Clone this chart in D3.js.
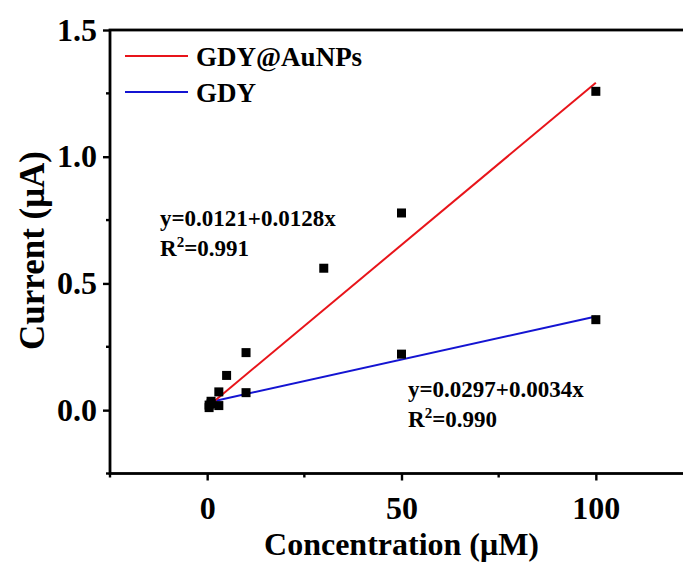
<!DOCTYPE html>
<html>
<head>
<meta charset="utf-8">
<script src="https://cdn.jsdelivr.net/npm/d3@7"></script>
<style>
  html, body { margin: 0; padding: 0; background: #fff; }
  svg { display: block; }
  text { font-family: "Liberation Serif", "Times New Roman", serif; font-weight: bold; fill: #000; }
</style>
</head>
<body>
<svg id="chart" width="683" height="562"></svg>
<script>
// Measured points
const auConc = [0.5, 1, 3, 5, 10, 30, 50, 100];
const auCurrent = [0.02, 0.035, 0.072, 0.137, 0.227, 0.56, 0.778, 1.258];
const gdyConc = [0.5, 1, 3, 10, 50, 100];
const gdyCurrent = [0.01, 0.025, 0.018, 0.069, 0.221, 0.357];

// Linear fits: [intercept, slope]
const auFit = [0.0121, 0.0128];
const gdyFit = [0.0297, 0.0034];
const fitRange = [0.5, 100];

const seriesNames = ["GDY@AuNPs", "GDY"];
const seriesColors = ["#e8141a", "#1414d2"];
const fitLabels = [["y=0.0121+0.0128x", "0.991"], ["y=0.0297+0.0034x", "0.990"]];

const xTicks = [0, 50, 100];
const xMinor = [-25, 25, 75];
const yTicks = [0.0, 0.5, 1.0, 1.5];
const yMinor = [-0.25, 0.25, 0.75, 1.25];

const svg = d3.select("#chart");
const x = d3.scaleLinear().domain([-25, 125]).range([110, 693]);
const y = d3.scaleLinear().domain([-0.25, 1.5]).range([473.5, 30]);

// Axes
const xAxis = d3.axisBottom(x).tickValues(xTicks).tickFormat(d3.format("d")).tickSize(7).tickPadding(16);
const yAxis = d3.axisLeft(y).tickValues(yTicks).tickFormat(d3.format(".1f")).tickSize(7).tickPadding(6);

const gx = svg.append("g").attr("transform", `translate(0,${y(-0.25)})`).call(xAxis);
const gy = svg.append("g").attr("transform", `translate(${x(-25)},0)`).call(yAxis);
[gx, gy].forEach(g => {
  g.attr("font-family", null).attr("font-size", null);
  g.select(".domain").remove();
  g.selectAll(".tick line").attr("stroke", "#000").attr("stroke-width", 2.4);
  g.selectAll(".tick text").style("font-size", "32px");
});

// minor ticks
svg.append("g").selectAll("line").data(xMinor).join("line")
  .attr("x1", d => x(d)).attr("x2", d => x(d))
  .attr("y1", y(-0.25)).attr("y2", y(-0.25) + 4)
  .attr("stroke", "#000").attr("stroke-width", 2.4);
svg.append("g").selectAll("line").data(yMinor).join("line")
  .attr("x1", x(-25)).attr("x2", x(-25) - 4)
  .attr("y1", d => y(d)).attr("y2", d => y(d))
  .attr("stroke", "#000").attr("stroke-width", 2.4);

// frame
svg.append("rect")
  .attr("x", x(-25)).attr("y", y(1.5))
  .attr("width", x(125) - x(-25)).attr("height", y(-0.25) - y(1.5))
  .attr("fill", "none").attr("stroke", "#000").attr("stroke-width", 2.8);

// Fit lines
const line = d3.line().x(d => x(d[0])).y(d => y(d[1]));
const fits = [auFit, gdyFit];
[1, 0].forEach(i => {
  const f = fits[i];
  svg.append("path")
    .attr("d", line(fitRange.map(c => [c, f[0] + f[1] * c])))
    .attr("fill", "none").attr("stroke", seriesColors[i]).attr("stroke-width", 2);
});

// Points
const pts = auConc.map((c, i) => [c, auCurrent[i]]).concat(gdyConc.map((c, i) => [c, gdyCurrent[i]]));
svg.append("g").selectAll("rect").data(pts).join("rect")
  .attr("x", d => x(d[0]) - 4.5).attr("y", d => y(d[1]) - 4.5)
  .attr("width", 9).attr("height", 9).attr("fill", "#000");

// Legend
const legY = [56, 92];
seriesNames.forEach((n, i) => {
  svg.append("line").attr("x1", 125).attr("x2", 188).attr("y1", legY[i]).attr("y2", legY[i])
    .attr("stroke", seriesColors[i]).attr("stroke-width", 2);
  svg.append("text").attr("x", 196).attr("y", legY[i] + 10).style("font-size", "27px").text(n);
});

// Fit equations
const eqPos = [[160, 226], [408, 397]];
fitLabels.forEach((lab, i) => {
  const [ex, ey] = eqPos[i];
  svg.append("text").attr("x", ex).attr("y", ey).style("font-size", "23px").text(lab[0]);
  const t = svg.append("text").attr("x", ex).attr("y", ey + 30).style("font-size", "23px");
  t.append("tspan").text("R");
  t.append("tspan").attr("dy", -9).style("font-size", "15px").text("2");
  t.append("tspan").attr("dy", 9).text("=" + lab[1]);
});

// Axis titles
svg.append("text").attr("x", x(50)).attr("y", 555).attr("text-anchor", "middle")
  .style("font-size", "32px").text("Concentration (μM)");
svg.append("text").attr("transform", `translate(44,${y(0.63)}) rotate(-90)`).attr("text-anchor", "middle")
  .style("font-size", "35px").text("Current (μA)");
</script>
</body>
</html>
